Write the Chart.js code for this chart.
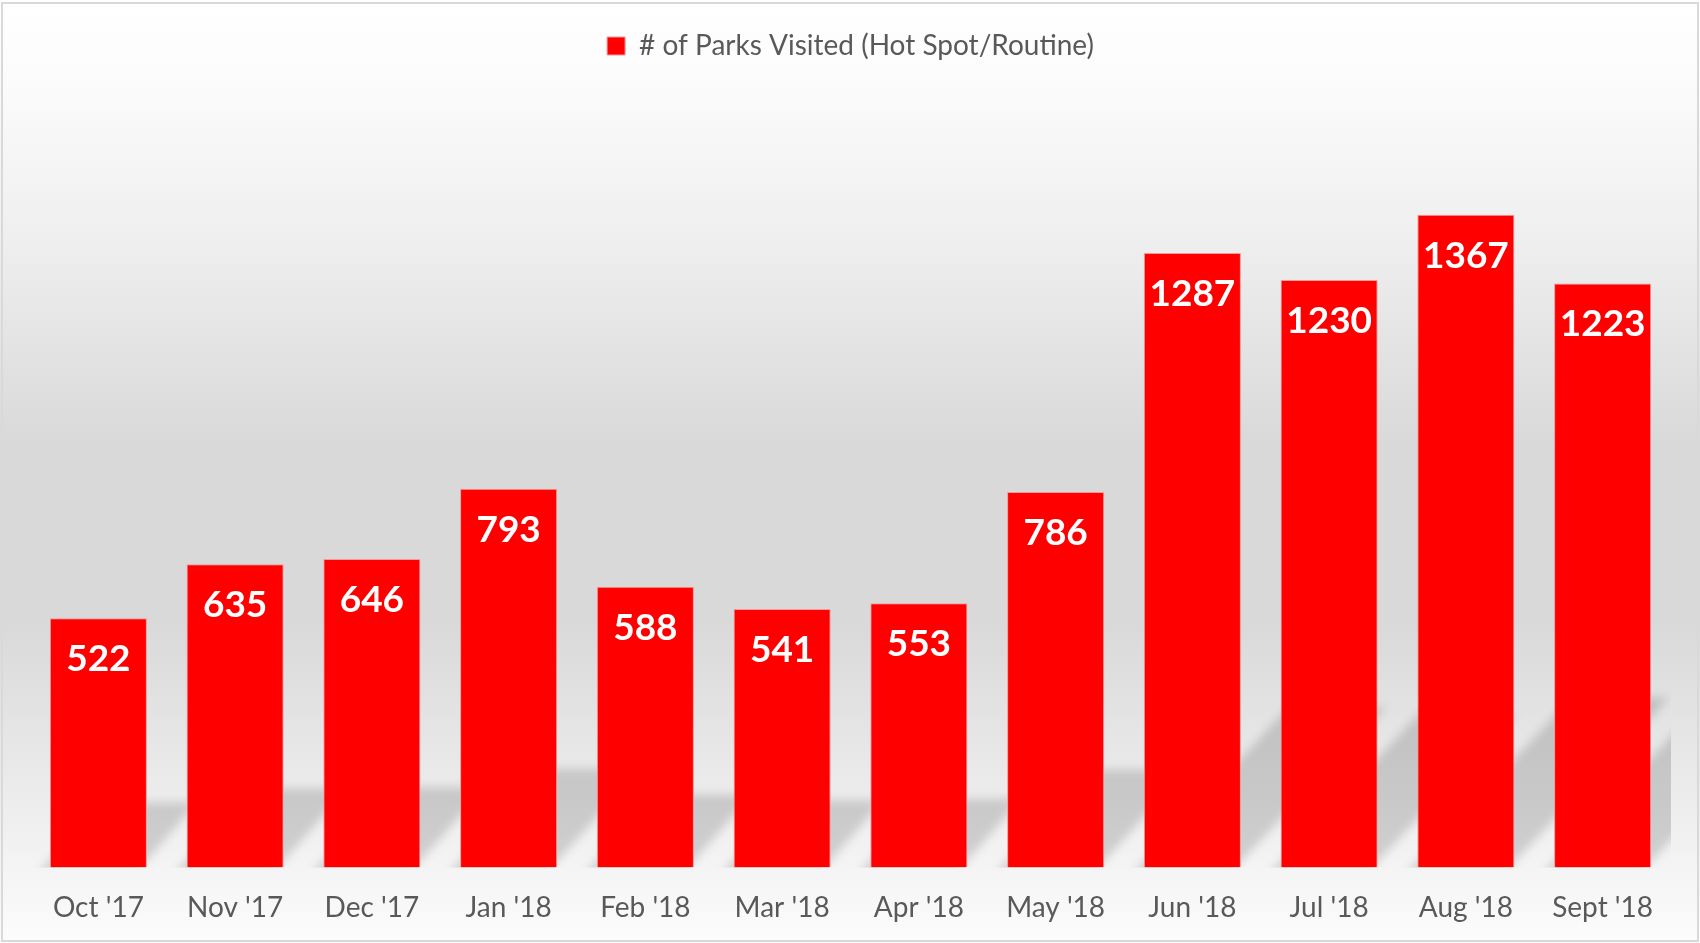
<!DOCTYPE html>
<html>
<head>
<meta charset="utf-8">
<script src="https://cdn.jsdelivr.net/npm/chart.js@4.4.0/dist/chart.umd.min.js"></script>
<style>
  html, body { margin: 0; padding: 0; background: #fff; }
  #wrap { width: 1700px; height: 943px; }
</style>
</head>
<body>
<div id="wrap"><canvas id="myChart"></canvas></div>
<script>
var months = ["Oct '17", "Nov '17", "Dec '17", "Jan '18", "Feb '18", "Mar '18",
              "Apr '18", "May '18", "Jun '18", "Jul '18", "Aug '18", "Sept '18"]
var parksVisited = [522, 635, 646, 793, 588, 541, 553, 786, 1287, 1230, 1367, 1223]
var seriesName = '# of Parks Visited (Hot Spot/Routine)'

// whole chart gets a soft white -> gray -> white gradient and a thin frame
var backdrop = {
    id: 'backdrop',
    beforeDraw: function(chart){
        var ctx = chart.ctx
        var w = chart.width, h = chart.height
        var g = ctx.createLinearGradient(0, 0, 0, h)
        g.addColorStop(0, '#ffffff')
        g.addColorStop(0.09, '#fbfbfb')
        g.addColorStop(0.25, '#efefef')
        g.addColorStop(0.47, '#d9d9d9')
        g.addColorStop(0.66, '#d9d9d9')
        g.addColorStop(0.92, '#f4f4f4')
        g.addColorStop(1, '#fcfcfc')
        ctx.save()
        ctx.fillStyle = g
        ctx.fillRect(0, 0, w, h)
        ctx.strokeStyle = '#d9d9d9'
        ctx.lineWidth = 2
        ctx.strokeRect(2, 3, w - 4, h - 5)
        ctx.restore()
    }
}

// perspective shadow behind every bar
var barShadows = {
    id: 'barShadows',
    beforeDatasetsDraw: function(chart){
        var ctx = chart.ctx
        var area = chart.chartArea
        var meta = chart.getDatasetMeta(0)
        ctx.save()
        ctx.beginPath()
        ctx.rect(area.left, area.top, area.right - area.left, area.bottom - area.top)
        ctx.clip()
        ctx.filter = 'blur(5px)'
        ctx.fillStyle = 'rgba(0,0,0,0.15)'
        meta.data.forEach(function(bar){
            var x0 = bar.x - bar.width / 2 - 15
            var x1 = bar.x + bar.width / 2 - 15
            var sh = (bar.base - bar.y) * 0.26
            ctx.beginPath()
            ctx.moveTo(x0, bar.base + 10)
            ctx.lineTo(x1, bar.base + 10)
            ctx.lineTo(x1 + sh, bar.base - sh)
            ctx.lineTo(x0 + sh, bar.base - sh)
            ctx.closePath()
            ctx.fill()
        })
        ctx.restore()
    }
}

var valueLabels = {
    id: 'valueLabels',
    afterDatasetsDraw: function(chart){
        var ctx = chart.ctx
        var meta = chart.getDatasetMeta(0)
        ctx.save()
        ctx.fillStyle = '#ffffff'
        ctx.font = 'bold 37px Lato'
        ctx.textAlign = 'center'
        ctx.textBaseline = 'middle'
        meta.data.forEach(function(bar, i){
            ctx.fillText(parksVisited[i], bar.x, bar.y + 41)
        })
        ctx.restore()
    }
}

var ctx = document.getElementById('myChart').getContext('2d')
var myChart = new Chart(ctx, {
    type: 'bar',
    data: {
        labels: months,
        datasets: [{
            label: seriesName,
            data: parksVisited,
            backgroundColor: '#ff0000',
            borderColor: '#f59a9a',
            borderWidth: 1,
            barPercentage: 0.71,
            categoryPercentage: 1
        }]
    },
    plugins: [backdrop, barShadows, valueLabels],
    options: {
        responsive: true,
        maintainAspectRatio: false,
        animation: false,
        layout: {
            padding: { top: 0, left: 30, right: 29, bottom: -6 }
        },
        plugins: {
            legend: {
                labels: {
                    boxWidth: 18,
                    boxHeight: 18,
                    padding: 32,
                    color: '#595959',
                    font: { family: 'Lato', size: 28 }
                }
            },
            tooltip: { enabled: false }
        },
        scales: {
            x: {
                grid: { display: false, drawTicks: false },
                border: { display: false },
                ticks: {
                    padding: 24,
                    color: '#595959',
                    font: { family: 'Lato', size: 28 }
                }
            },
            y: {
                display: false,
                min: 0,
                max: 1670
            }
        }
    }
})
</script>
</body>
</html>
